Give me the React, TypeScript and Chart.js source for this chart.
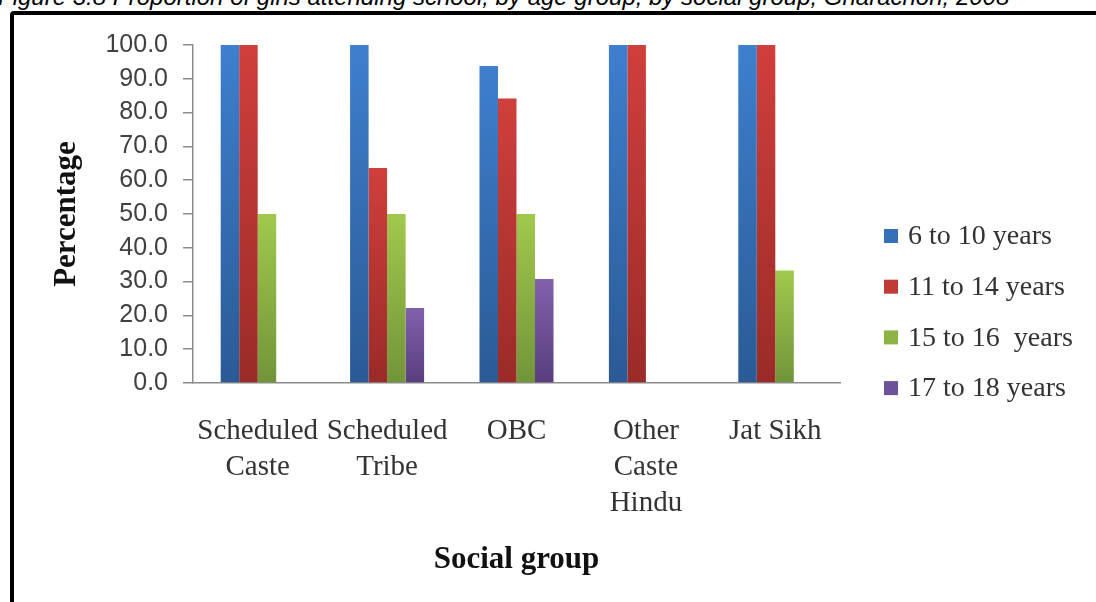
import React, { useEffect, useRef } from "react";
import { Chart, registerables } from "chart.js";

Chart.register(...registerables);

const categories: string[][] = [
  ["Scheduled", "Caste"],
  ["Scheduled", "Tribe"],
  ["OBC"],
  ["Other", "Caste", "Hindu"],
  ["Jat Sikh"],
];
const seriesLabels = ["6 to 10 years", "11 to 14 years", "15 to 16  years", "17 to 18 years"];
const age6to10 = [100, 100, 93.8, 100, 100];
const age11to14 = [100, 63.6, 84.2, 100, 100];
const age15to16 = [50, 50, 50, 0, 33.3];
const age17to18 = [0, 22.2, 30.8, 0, 0];
const yMin = 0;
const yMax = 100;
const yStep = 10;

const topColors = ["#3e7fce", "#d03f3c", "#a0c94c", "#8261ac"];
const bottomColors = ["#2b5a95", "#9a2b28", "#72943a", "#583e7e"];
const legendColors = ["#3670b8", "#c03a36", "#8db343", "#6d519a"];

const titleText =
  "Figure 3.8 Proportion of girls attending school, by age group, by social group, Gharachon, 2008";

function barGradient(i: number) {
  return (ctx: any) => {
    const chart = ctx.chart;
    const ys = chart.scales && chart.scales.y;
    if (!ys || !chart.chartArea || typeof ctx.raw !== "number") return topColors[i];
    const top = ys.getPixelForValue(ctx.raw);
    const bottom = ys.getPixelForValue(0);
    if (!isFinite(top) || !isFinite(bottom) || Math.abs(bottom - top) < 1) return topColors[i];
    const g = chart.ctx.createLinearGradient(0, top, 0, bottom);
    g.addColorStop(0, topColors[i]);
    g.addColorStop(1, bottomColors[i]);
    return g;
  };
}

const sideLegend = {
  id: "sideLegend",
  afterDraw(chart: any) {
    const { ctx, chartArea } = chart;
    const x = chartArea.right + 44;
    const step = 50.7;
    const y0 = chartArea.top + 191;
    ctx.save();
    ctx.font = "28px 'Liberation Serif', serif";
    ctx.textBaseline = "middle";
    ctx.textAlign = "left";
    chart.data.datasets.forEach((ds: any, i: number) => {
      const y = y0 + i * step;
      ctx.fillStyle = legendColors[i];
      ctx.fillRect(x, y - 7, 14, 14);
      ctx.fillStyle = "#333";
      ctx.fillText(ds.label, x + 24, y + 1);
    });
    ctx.restore();
  },
};

export default function App() {
  const canvasRef = useRef<HTMLCanvasElement | null>(null);

  useEffect(() => {
    if (!canvasRef.current) return;
    const seriesData = [age6to10, age11to14, age15to16, age17to18];
    const chart = new Chart(canvasRef.current, {
      type: "bar",
      data: {
        labels: categories,
        datasets: seriesData.map((d, i) => ({
          label: seriesLabels[i],
          data: d,
          backgroundColor: barGradient(i),
          borderWidth: 0,
          barPercentage: 1,
          categoryPercentage: 0.572,
        })),
      },
      plugins: [sideLegend],
      options: {
        responsive: false,
        animation: false,
        layout: { padding: { left: 48, top: 45, right: 256, bottom: 22 } },
        plugins: {
          tooltip: { enabled: false },
          legend: { display: false },
        },
        scales: {
          x: {
            type: "category",
            offset: true,
            grid: { drawOnChartArea: false, drawTicks: false },
            border: { display: true, color: "#8c8c8c", width: 1.5 },
            ticks: {
              color: "#333",
              font: { family: "'Liberation Serif', serif", size: 29, lineHeight: 1.25 },
              padding: 30,
              maxRotation: 0,
              minRotation: 0,
              autoSkip: false,
            },
            title: {
              display: true,
              text: "Social group",
              color: "#111",
              font: { family: "'Liberation Serif', serif", size: 31, weight: "bold", lineHeight: 1.2 },
              padding: { top: 10, bottom: 1.5 },
            },
            afterFit: (s: any) => {
              s.height = 197;
            },
          },
          y: {
            min: yMin,
            max: yMax,
            ticks: {
              stepSize: yStep,
              callback: (v: any) => Number(v).toFixed(1),
              color: "#404040",
              font: { family: "'Liberation Sans', sans-serif", size: 25 },
              padding: 15,
            },
            grid: { drawOnChartArea: false, drawTicks: true, tickLength: 10, color: "#8c8c8c", lineWidth: 1.5 },
            border: { display: true, color: "#8c8c8c", width: 1.5 },
            title: {
              display: true,
              text: "Percentage",
              color: "#111",
              font: { family: "'Liberation Serif', serif", size: 31, weight: "bold", lineHeight: 1.2 },
              padding: { top: 0, bottom: 20 },
            },
            afterFit: (s: any) => {
              s.width = 145;
            },
          },
        },
      } as any,
    });
    return () => chart.destroy();
  }, []);

  return (
    <div
      style={{
        position: "fixed",
        left: 0,
        top: 0,
        width: 1096,
        height: 602,
        overflow: "hidden",
        background: "#fff",
      }}
    >
      <div
        style={{
          position: "absolute",
          left: -2,
          top: -15,
          whiteSpace: "nowrap",
          fontFamily: "'Liberation Sans', Arial, sans-serif",
          fontStyle: "italic",
          fontSize: 24,
          lineHeight: "24px",
          color: "#000",
        }}
      >
        {titleText}
      </div>
      <div
        style={{
          position: "absolute",
          left: 10,
          top: 11,
          width: 2000,
          height: 2000,
          border: "4px solid #000",
          borderRadius: 4,
          boxSizing: "border-box",
          boxShadow: "2px 2px 2px rgba(0,0,0,0.3)",
        }}
      />
      <canvas
        ref={canvasRef}
        width={1096}
        height={602}
        style={{ position: "absolute", left: 0, top: 0, width: 1096, height: 602, display: "block" }}
      />
    </div>
  );
}
